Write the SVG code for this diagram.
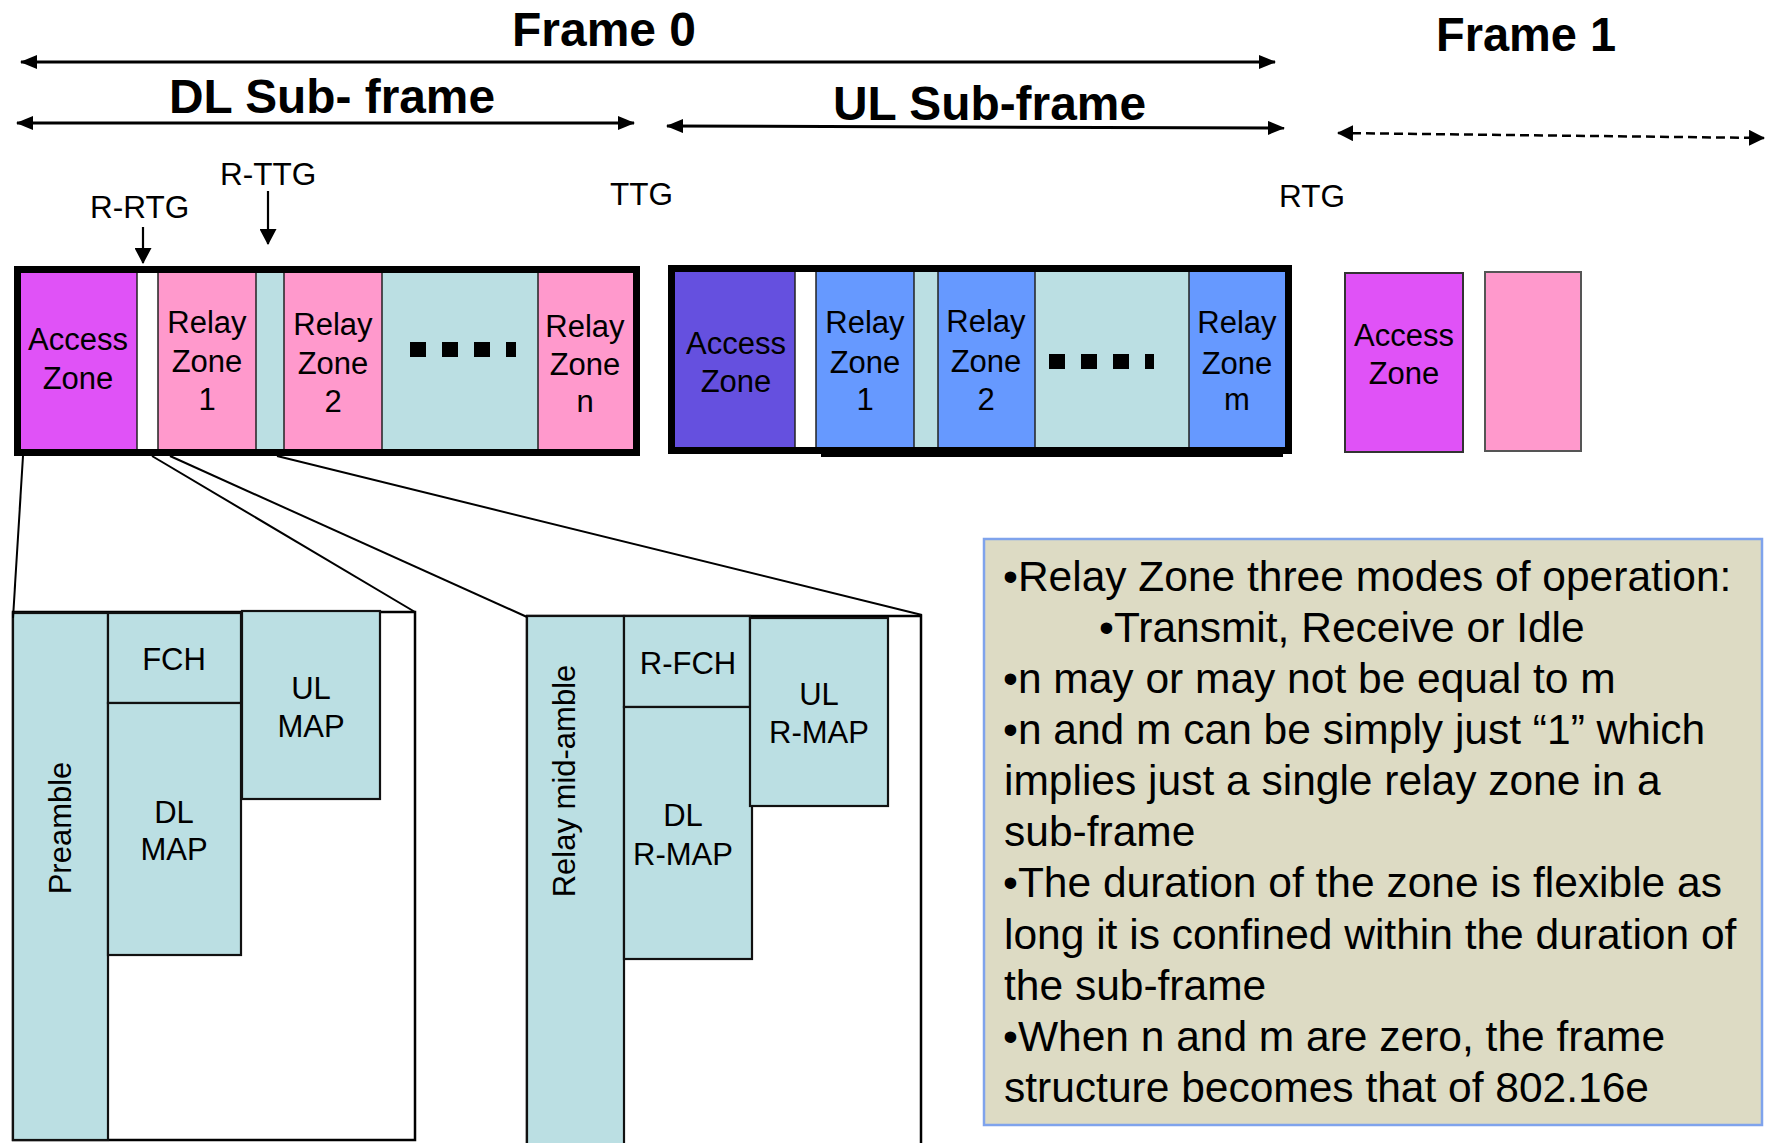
<svg xmlns="http://www.w3.org/2000/svg" width="1769" height="1143" viewBox="0 0 1769 1143">
  <style>
    text { font-family: "Liberation Sans", Arial, sans-serif; fill: #000; }
    .title { font-size: 48px; font-weight: bold; }
    .lbl { font-size: 31px; text-anchor: middle; }
    .gap { font-size: 31.5px; }
    .sub { font-size: 31px; text-anchor: middle; }
    .note { font-size: 42.5px; }
    .acc { fill: #E052F7; }
    .accul { fill: #6550DF; }
    .pink { fill: #FF99CC; }
    .blue { fill: #6699FF; }
    .teal { fill: #BBDFE3; }
    .white { fill: #FFFFFF; }
    .div { stroke: #222; stroke-width: 1.5; }
    .frame { fill: none; stroke: #000; stroke-width: 7; }
    .cell { stroke: #111; stroke-width: 2.2; }
    .dot { fill: #000; }
    .conn { stroke: #000; fill: none; }
  </style>
  <defs>
    <marker id="head" viewBox="0 0 17 14" refX="16" refY="7" markerWidth="17" markerHeight="14" markerUnits="userSpaceOnUse" orient="auto-start-reverse">
      <path d="M0,0 L17,7 L0,14 z" fill="#000"/>
    </marker>
    <marker id="headSmall" viewBox="0 0 16 17" refX="15" refY="8.5" markerWidth="16" markerHeight="17" markerUnits="userSpaceOnUse" orient="auto">
      <path d="M0,0 L16,8.5 L0,17 z" fill="#000"/>
    </marker>
    <marker id="headDash" viewBox="0 0 16 16" refX="15" refY="8" markerWidth="16" markerHeight="16" markerUnits="userSpaceOnUse" orient="auto-start-reverse">
      <path d="M0,0 L16,8 L0,16 z" fill="#000"/>
    </marker>
  </defs>

  <rect width="1769" height="1143" fill="#FFFFFF"/>

  <!-- Headings -->
  <g id="headings">
    <text class="title" x="512" y="46" textLength="184" lengthAdjust="spacingAndGlyphs">Frame 0</text>
    <text class="title" x="1436" y="51" textLength="180" lengthAdjust="spacingAndGlyphs">Frame 1</text>
    <text class="title" x="169" y="113" textLength="326" lengthAdjust="spacingAndGlyphs">DL Sub- frame</text>
    <text class="title" x="833" y="120" textLength="313" lengthAdjust="spacingAndGlyphs">UL Sub-frame</text>
  </g>

  <!-- Gap labels -->
  <g id="gap-labels">
    <text class="gap" x="220" y="185">R-TTG</text>
    <text class="gap" x="90" y="218">R-RTG</text>
    <text class="gap" x="610" y="205">TTG</text>
    <text class="gap" x="1279" y="207">RTG</text>
  </g>

  <!-- Downlink sub-frame -->
  <g id="dl-subframe">
    <rect class="acc" x="21" y="273" width="116" height="176"/>
    <rect class="white" x="137" y="273" width="21" height="176"/>
    <rect class="pink" x="158" y="273" width="98" height="176"/>
    <rect class="teal" x="256" y="273" width="28" height="176"/>
    <rect class="pink" x="284" y="273" width="98" height="176"/>
    <rect class="teal" x="382" y="273" width="156" height="176"/>
    <rect class="pink" x="538" y="273" width="95" height="176"/>
    <g class="div">
      <line x1="137" y1="273" x2="137" y2="449"/>
      <line x1="158" y1="273" x2="158" y2="449"/>
      <line x1="256" y1="273" x2="256" y2="449"/>
      <line x1="284" y1="273" x2="284" y2="449"/>
      <line x1="382" y1="273" x2="382" y2="449"/>
      <line x1="538" y1="273" x2="538" y2="449"/>
    </g>
    <rect class="frame" x="17.5" y="269.5" width="619" height="183"/>
    <text class="lbl" x="78" y="350">Access</text>
    <text class="lbl" x="78" y="389">Zone</text>
    <text class="lbl" x="207" y="333">Relay</text>
    <text class="lbl" x="207" y="372">Zone</text>
    <text class="lbl" x="207" y="410">1</text>
    <text class="lbl" x="333" y="335">Relay</text>
    <text class="lbl" x="333" y="374">Zone</text>
    <text class="lbl" x="333" y="412">2</text>
    <text class="lbl" x="585" y="337">Relay</text>
    <text class="lbl" x="585" y="375">Zone</text>
    <text class="lbl" x="585" y="412">n</text>
    <rect class="dot" x="410" y="342" width="16" height="15"/>
    <rect class="dot" x="442" y="342" width="16" height="15"/>
    <rect class="dot" x="474" y="342" width="16" height="15"/>
    <rect class="dot" x="506" y="342" width="10" height="15"/>
  </g>

  <!-- Uplink sub-frame -->
  <g id="ul-subframe">
    <rect class="accul" x="675" y="272" width="120" height="175"/>
    <rect class="white" x="795" y="272" width="21" height="175"/>
    <rect class="blue" x="816" y="272" width="98" height="175"/>
    <rect class="teal" x="914" y="272" width="24" height="175"/>
    <rect class="blue" x="938" y="272" width="97" height="175"/>
    <rect class="teal" x="1035" y="272" width="154" height="175"/>
    <rect class="blue" x="1189" y="272" width="96" height="175"/>
    <g class="div">
      <line x1="795" y1="272" x2="795" y2="447"/>
      <line x1="816" y1="272" x2="816" y2="447"/>
      <line x1="914" y1="272" x2="914" y2="447"/>
      <line x1="938" y1="272" x2="938" y2="447"/>
      <line x1="1035" y1="272" x2="1035" y2="447"/>
      <line x1="1189" y1="272" x2="1189" y2="447"/>
    </g>
    <rect class="frame" x="671.5" y="268.5" width="617" height="182"/>
    <rect x="821" y="450" width="462" height="7" fill="#000"/>
    <text class="lbl" x="736" y="354">Access</text>
    <text class="lbl" x="736" y="392">Zone</text>
    <text class="lbl" x="865" y="333">Relay</text>
    <text class="lbl" x="865" y="373">Zone</text>
    <text class="lbl" x="865" y="410">1</text>
    <text class="lbl" x="986" y="332">Relay</text>
    <text class="lbl" x="986" y="372">Zone</text>
    <text class="lbl" x="986" y="410">2</text>
    <text class="lbl" x="1237" y="333">Relay</text>
    <text class="lbl" x="1237" y="374">Zone</text>
    <text class="lbl" x="1237" y="410">m</text>
    <rect class="dot" x="1049" y="354" width="16" height="15"/>
    <rect class="dot" x="1081" y="354" width="16" height="15"/>
    <rect class="dot" x="1113" y="354" width="16" height="15"/>
    <rect class="dot" x="1145" y="354" width="9" height="15"/>
  </g>

  <!-- Next frame -->
  <g id="frame1-access">
    <rect class="acc" x="1345" y="273" width="118" height="179" stroke="#333" stroke-width="2"/>
    <text class="lbl" x="1404" y="346">Access</text>
    <text class="lbl" x="1404" y="384">Zone</text>
  </g>
  <g id="frame1-relay">
    <rect class="pink" x="1485" y="272" width="96" height="179" stroke="#555" stroke-width="2"/>
  </g>

  <!-- Access zone detail -->
  <g id="access-detail">
    <rect x="13" y="612" width="402" height="528" fill="#FFFFFF" stroke="#000" stroke-width="2.5"/>
    <rect class="teal cell" x="13" y="613" width="95" height="527"/>
    <rect class="teal cell" x="108" y="613" width="133" height="90"/>
    <rect class="teal cell" x="108" y="703" width="133" height="252"/>
    <rect class="teal cell" x="242" y="611" width="138" height="188"/>
    <text class="sub" transform="translate(60,828) rotate(-90)" y="11">Preamble</text>
    <text class="sub" x="174" y="670">FCH</text>
    <text class="sub" x="174" y="823">DL</text>
    <text class="sub" x="174" y="860">MAP</text>
    <text class="sub" x="311" y="699">UL</text>
    <text class="sub" x="311" y="737">MAP</text>
  </g>

  <!-- Relay zone detail -->
  <g id="relay-detail">
    <rect x="527" y="616" width="394" height="540" fill="#FFFFFF" stroke="#000" stroke-width="2.5"/>
    <rect class="teal cell" x="527" y="616" width="97" height="540"/>
    <rect class="teal cell" x="624" y="616" width="126" height="91"/>
    <rect class="teal cell" x="624" y="707" width="128" height="252"/>
    <rect class="teal cell" x="750" y="618" width="138" height="188"/>
    <text class="sub" transform="translate(575,781) rotate(-90)" y="0">Relay mid-amble</text>
    <text class="sub" x="688" y="674">R-FCH</text>
    <text class="sub" x="683" y="826">DL</text>
    <text class="sub" x="683" y="865">R-MAP</text>
    <text class="sub" x="819" y="705">UL</text>
    <text class="sub" x="819" y="743">R-MAP</text>
  </g>

  <!-- Notes panel -->
  <g id="notes">
    <rect x="984" y="539" width="778" height="586" fill="#DDDBC4" stroke="#7FA3EC" stroke-width="2.5"/>
    <text class="note" x="1003" y="591">•Relay Zone three modes of operation:</text>
    <text class="note" x="1099" y="642">•Transmit, Receive or Idle</text>
    <text class="note" x="1003" y="693">•n may or may not be equal to m</text>
    <text class="note" x="1003" y="744">•n and m can be simply just “1” which</text>
    <text class="note" x="1004" y="795">implies just a single relay zone in a</text>
    <text class="note" x="1004" y="846">sub-frame</text>
    <text class="note" x="1003" y="897">•The duration of the zone is flexible as</text>
    <text class="note" x="1004" y="949">long it is confined within the duration of</text>
    <text class="note" x="1004" y="1000">the sub-frame</text>
    <text class="note" x="1003" y="1051">•When n and m are zero, the frame</text>
    <text class="note" x="1004" y="1102">structure becomes that of 802.16e</text>
  </g>

  <!-- Connectors: span arrows, gap pointers and zoom lines -->
  <g id="connectors" class="conn">
    <line x1="21" y1="62" x2="1275" y2="62" stroke-width="3" marker-start="url(#head)" marker-end="url(#head)"/>
    <line x1="17" y1="123" x2="634" y2="123" stroke-width="3" marker-start="url(#head)" marker-end="url(#head)"/>
    <line x1="667" y1="126" x2="1284" y2="128" stroke-width="3" marker-start="url(#head)" marker-end="url(#head)"/>
    <line x1="1338" y1="133" x2="1764" y2="138" stroke-width="2.5" stroke-dasharray="9 5" marker-start="url(#headDash)" marker-end="url(#headDash)"/>
    <line x1="268" y1="191" x2="268" y2="244" stroke-width="2.2" marker-end="url(#headSmall)"/>
    <line x1="143" y1="227" x2="143" y2="263" stroke-width="2.2" marker-end="url(#headSmall)"/>
    <line x1="23" y1="456" x2="13" y2="618" stroke-width="2"/>
    <line x1="152" y1="456" x2="415" y2="612" stroke-width="2"/>
    <line x1="170" y1="456" x2="527" y2="617" stroke-width="2"/>
    <line x1="277" y1="456" x2="922" y2="615" stroke-width="2"/>
  </g>
</svg>
